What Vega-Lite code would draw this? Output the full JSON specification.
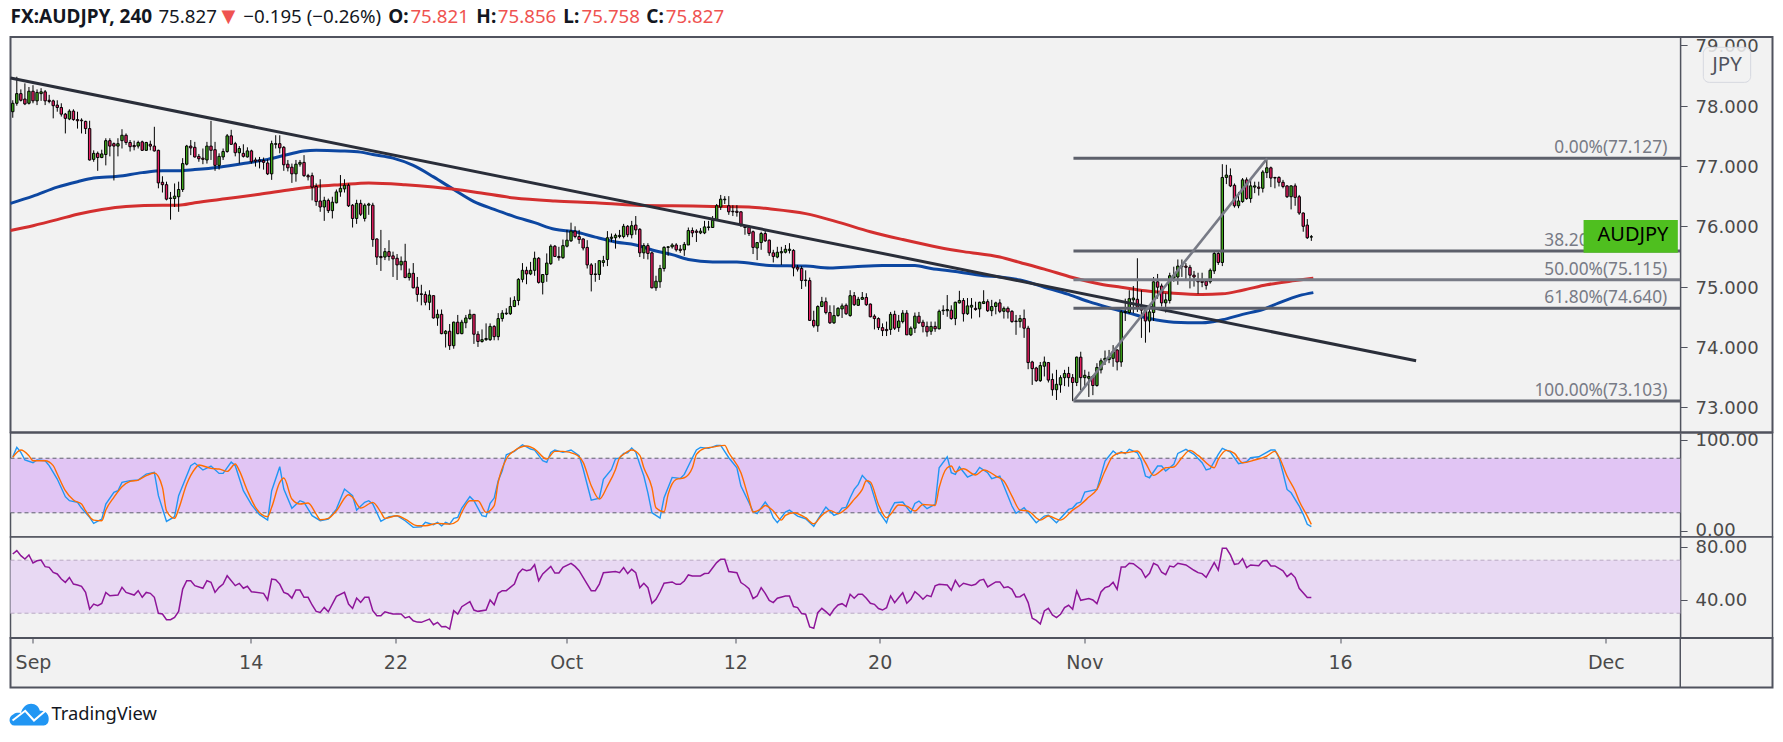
{
"$schema":"https://vega.github.io/schema/vega-lite/v6.json",
"background":"white",
"padding":{"left":3.5,"right":2,"top":0,"bottom":0},
"spacing":0,
"bounds":"flush",
"config":{"text":{"font":"Noto Sans"},"axis":{"labelFont":"DejaVu Sans","grid":false}},
"datasets":{
"one":[{"id":0}],
"candles":[
{"b":-5,"o":77.90,"h":78.09,"l":77.80,"c":78.04},{"b":-4,"o":78.04,"h":78.48,"l":78.00,"c":78.20},{"b":-3,"o":78.20,"h":78.27,"l":78.07,"c":78.09},{"b":-2,"o":78.11,"h":78.37,"l":78.01,"c":78.03},{"b":-1,"o":78.04,"h":78.31,"l":78.02,"c":78.24},
{"b":0,"o":78.24,"h":78.34,"l":78.04,"c":78.08},{"b":1,"o":78.08,"h":78.27,"l":78.01,"c":78.22},{"b":2,"o":78.20,"h":78.29,"l":78.08,"c":78.23},{"b":3,"o":78.23,"h":78.26,"l":78.01,"c":78.08},{"b":4,"o":78.09,"h":78.18,"l":78.04,"c":78.07},
{"b":5,"o":78.08,"h":78.10,"l":77.79,"c":78.00},{"b":6,"o":78.01,"h":78.09,"l":77.90,"c":77.97},{"b":7,"o":77.97,"h":78.04,"l":77.82,"c":77.86},{"b":8,"o":77.86,"h":77.88,"l":77.54,"c":77.79},{"b":9,"o":77.78,"h":77.94,"l":77.76,"c":77.91},
{"b":10,"o":77.91,"h":77.94,"l":77.75,"c":77.77},{"b":11,"o":77.77,"h":77.90,"l":77.62,"c":77.75},{"b":12,"o":77.76,"h":77.79,"l":77.54,"c":77.75},{"b":13,"o":77.74,"h":77.75,"l":77.53,"c":77.62},{"b":14,"o":77.62,"h":77.75,"l":77.09,"c":77.10},
{"b":15,"o":77.11,"h":77.26,"l":77.07,"c":77.21},{"b":16,"o":77.21,"h":77.24,"l":76.92,"c":77.14},{"b":17,"o":77.14,"h":77.27,"l":77.13,"c":77.20},{"b":18,"o":77.19,"h":77.46,"l":77.01,"c":77.42},{"b":19,"o":77.42,"h":77.46,"l":77.16,"c":77.33},
{"b":20,"o":77.37,"h":77.39,"l":76.76,"c":77.33},{"b":21,"o":77.33,"h":77.46,"l":77.16,"c":77.37},{"b":22,"o":77.42,"h":77.61,"l":77.29,"c":77.51},{"b":23,"o":77.51,"h":77.54,"l":77.35,"c":77.39},{"b":24,"o":77.39,"h":77.43,"l":77.24,"c":77.32},
{"b":25,"o":77.34,"h":77.42,"l":77.26,"c":77.32},{"b":26,"o":77.33,"h":77.42,"l":77.29,"c":77.39},{"b":27,"o":77.40,"h":77.42,"l":77.25,"c":77.26},{"b":28,"o":77.26,"h":77.40,"l":77.25,"c":77.39},{"b":29,"o":77.36,"h":77.42,"l":77.26,"c":77.33},
{"b":30,"o":77.33,"h":77.65,"l":77.24,"c":77.25},{"b":31,"o":77.26,"h":77.27,"l":76.63,"c":76.72},{"b":32,"o":76.73,"h":76.83,"l":76.56,"c":76.69},{"b":33,"o":76.69,"h":76.74,"l":76.43,"c":76.45},{"b":34,"o":76.46,"h":76.57,"l":76.11,"c":76.47},
{"b":35,"o":76.46,"h":76.71,"l":76.32,"c":76.50},{"b":36,"o":76.49,"h":76.74,"l":76.24,"c":76.61},{"b":37,"o":76.61,"h":77.13,"l":76.57,"c":77.04},{"b":38,"o":77.03,"h":77.35,"l":77.01,"c":77.33},{"b":39,"o":77.33,"h":77.43,"l":77.18,"c":77.30},
{"b":40,"o":77.31,"h":77.40,"l":77.14,"c":77.15},{"b":41,"o":77.16,"h":77.20,"l":77.07,"c":77.12},{"b":42,"o":77.13,"h":77.29,"l":77.03,"c":77.11},{"b":43,"o":77.10,"h":77.40,"l":77.04,"c":77.33},{"b":44,"o":77.33,"h":77.75,"l":77.10,"c":77.26},
{"b":45,"o":77.27,"h":77.40,"l":76.92,"c":77.01},{"b":46,"o":77.01,"h":77.21,"l":76.94,"c":77.16},{"b":47,"o":77.15,"h":77.29,"l":77.10,"c":77.24},{"b":48,"o":77.24,"h":77.53,"l":77.22,"c":77.50},{"b":49,"o":77.50,"h":77.60,"l":77.35,"c":77.36},
{"b":50,"o":77.37,"h":77.40,"l":77.16,"c":77.22},{"b":51,"o":77.22,"h":77.33,"l":77.04,"c":77.29},{"b":52,"o":77.21,"h":77.36,"l":77.14,"c":77.16},{"b":53,"o":77.15,"h":77.31,"l":77.14,"c":77.25},{"b":54,"o":77.25,"h":77.27,"l":77.04,"c":77.07},
{"b":55,"o":77.10,"h":77.14,"l":76.99,"c":77.08},{"b":56,"o":77.10,"h":77.15,"l":76.96,"c":77.08},{"b":57,"o":77.09,"h":77.14,"l":76.94,"c":77.06},{"b":58,"o":77.05,"h":77.11,"l":76.85,"c":76.87},{"b":59,"o":76.87,"h":77.42,"l":76.77,"c":77.37},
{"b":60,"o":77.36,"h":77.51,"l":77.29,"c":77.37},{"b":61,"o":77.37,"h":77.51,"l":77.21,"c":77.30},{"b":62,"o":77.31,"h":77.33,"l":76.92,"c":77.02},{"b":63,"o":77.03,"h":77.10,"l":76.91,"c":76.97},{"b":64,"o":76.98,"h":77.04,"l":76.72,"c":76.87},
{"b":65,"o":76.87,"h":77.10,"l":76.74,"c":77.03},{"b":66,"o":77.03,"h":77.10,"l":76.99,"c":77.06},{"b":67,"o":77.06,"h":77.18,"l":76.82,"c":76.84},{"b":68,"o":76.84,"h":76.87,"l":76.76,"c":76.82},{"b":69,"o":76.84,"h":76.89,"l":76.43,"c":76.65},
{"b":70,"o":76.66,"h":76.71,"l":76.34,"c":76.41},{"b":71,"o":76.42,"h":76.78,"l":76.24,"c":76.32},{"b":72,"o":76.32,"h":76.49,"l":76.09,"c":76.43},{"b":73,"o":76.43,"h":76.46,"l":76.22,"c":76.26},{"b":74,"o":76.26,"h":76.49,"l":76.13,"c":76.40},
{"b":75,"o":76.39,"h":76.61,"l":76.38,"c":76.57},{"b":76,"o":76.57,"h":76.85,"l":76.49,"c":76.63},{"b":77,"o":76.62,"h":76.78,"l":76.56,"c":76.68},{"b":78,"o":76.68,"h":76.71,"l":76.32,"c":76.34},{"b":79,"o":76.35,"h":76.37,"l":75.98,"c":76.13},
{"b":80,"o":76.13,"h":76.44,"l":76.04,"c":76.38},{"b":81,"o":76.38,"h":76.44,"l":76.17,"c":76.20},{"b":82,"o":76.13,"h":76.38,"l":76.08,"c":76.35},{"b":83,"o":76.35,"h":76.39,"l":76.19,"c":76.37},{"b":84,"o":76.35,"h":76.39,"l":75.66,"c":75.78},
{"b":85,"o":75.79,"h":75.80,"l":75.36,"c":75.49},{"b":86,"o":75.50,"h":75.94,"l":75.26,"c":75.48},{"b":87,"o":75.49,"h":75.64,"l":75.44,"c":75.58},{"b":88,"o":75.58,"h":75.77,"l":75.43,"c":75.50},{"b":89,"o":75.51,"h":75.58,"l":75.16,"c":75.46},
{"b":90,"o":75.47,"h":75.54,"l":75.11,"c":75.36},{"b":91,"o":75.36,"h":75.50,"l":75.27,"c":75.42},{"b":92,"o":75.42,"h":75.71,"l":75.14,"c":75.15},{"b":93,"o":75.15,"h":75.30,"l":75.10,"c":75.22},{"b":94,"o":75.22,"h":75.39,"l":74.97,"c":74.98},
{"b":95,"o":74.99,"h":75.16,"l":74.75,"c":74.87},{"b":96,"o":74.88,"h":75.03,"l":74.69,"c":74.87},{"b":97,"o":74.87,"h":74.92,"l":74.69,"c":74.74},{"b":98,"o":74.74,"h":74.94,"l":74.61,"c":74.86},{"b":99,"o":74.85,"h":74.85,"l":74.47,"c":74.48},
{"b":100,"o":74.48,"h":74.62,"l":74.35,"c":74.54},{"b":101,"o":74.54,"h":74.62,"l":74.21,"c":74.22},{"b":102,"o":74.22,"h":74.28,"l":73.99,"c":74.26},{"b":103,"o":74.26,"h":74.38,"l":73.95,"c":74.02},{"b":104,"o":74.02,"h":74.42,"l":73.97,"c":74.41},
{"b":105,"o":74.41,"h":74.53,"l":74.21,"c":74.22},{"b":106,"o":74.22,"h":74.45,"l":74.21,"c":74.41},{"b":107,"o":74.40,"h":74.53,"l":74.31,"c":74.48},{"b":108,"o":74.47,"h":74.62,"l":74.45,"c":74.54},{"b":109,"o":74.54,"h":74.54,"l":74.05,"c":74.21},
{"b":110,"o":74.21,"h":74.26,"l":74.00,"c":74.09},{"b":111,"o":74.09,"h":74.29,"l":74.07,"c":74.12},{"b":112,"o":74.12,"h":74.39,"l":74.10,"c":74.14},{"b":113,"o":74.12,"h":74.39,"l":74.10,"c":74.34},{"b":114,"o":74.34,"h":74.36,"l":74.11,"c":74.17},
{"b":115,"o":74.17,"h":74.56,"l":74.11,"c":74.47},{"b":116,"o":74.47,"h":74.61,"l":74.42,"c":74.56},{"b":117,"o":74.55,"h":74.64,"l":74.53,"c":74.56},{"b":118,"o":74.55,"h":74.82,"l":74.53,"c":74.67},{"b":119,"o":74.67,"h":74.84,"l":74.66,"c":74.77},
{"b":120,"o":74.77,"h":75.14,"l":74.69,"c":75.12},{"b":121,"o":75.12,"h":75.39,"l":75.07,"c":75.27},{"b":122,"o":75.27,"h":75.33,"l":75.04,"c":75.21},{"b":123,"o":75.21,"h":75.41,"l":75.19,"c":75.27},{"b":124,"o":75.27,"h":75.58,"l":75.18,"c":75.47},
{"b":125,"o":75.47,"h":75.49,"l":75.05,"c":75.07},{"b":126,"o":75.07,"h":75.20,"l":74.87,"c":75.20},{"b":127,"o":75.20,"h":75.55,"l":75.08,"c":75.39},{"b":128,"o":75.38,"h":75.70,"l":75.36,"c":75.67},{"b":129,"o":75.67,"h":75.69,"l":75.49,"c":75.50},
{"b":130,"o":75.50,"h":75.66,"l":75.43,"c":75.48},{"b":131,"o":75.48,"h":75.78,"l":75.46,"c":75.68},{"b":132,"o":75.67,"h":75.94,"l":75.65,"c":75.77},{"b":133,"o":75.76,"h":76.06,"l":75.74,"c":75.92},{"b":134,"o":75.92,"h":76.00,"l":75.80,"c":75.83},
{"b":135,"o":75.83,"h":75.94,"l":75.71,"c":75.78},{"b":136,"o":75.79,"h":75.80,"l":75.60,"c":75.64},{"b":137,"o":75.65,"h":75.77,"l":75.30,"c":75.36},{"b":138,"o":75.36,"h":75.39,"l":74.92,"c":75.20},{"b":139,"o":75.21,"h":75.39,"l":75.08,"c":75.20},
{"b":140,"o":75.20,"h":75.44,"l":75.11,"c":75.43},{"b":141,"o":75.40,"h":75.51,"l":75.33,"c":75.43},{"b":142,"o":75.45,"h":75.92,"l":75.34,"c":75.81},{"b":143,"o":75.80,"h":75.88,"l":75.74,"c":75.82},{"b":144,"o":75.81,"h":75.88,"l":75.63,"c":75.85},
{"b":145,"o":75.83,"h":75.94,"l":75.80,"c":75.85},{"b":146,"o":75.83,"h":76.04,"l":75.80,"c":76.00},{"b":147,"o":76.00,"h":76.02,"l":75.82,"c":75.86},{"b":148,"o":75.86,"h":76.09,"l":75.80,"c":76.01},{"b":149,"o":76.02,"h":76.17,"l":75.86,"c":75.94},
{"b":150,"o":75.95,"h":75.97,"l":75.49,"c":75.56},{"b":151,"o":75.56,"h":75.72,"l":75.46,"c":75.68},{"b":152,"o":75.68,"h":75.72,"l":75.45,"c":75.55},{"b":153,"o":75.56,"h":75.58,"l":74.97,"c":74.98},{"b":154,"o":74.98,"h":75.18,"l":74.93,"c":75.09},
{"b":155,"o":75.08,"h":75.36,"l":74.98,"c":75.30},{"b":156,"o":75.30,"h":75.67,"l":75.25,"c":75.65},{"b":157,"o":75.65,"h":75.67,"l":75.51,"c":75.66},{"b":158,"o":75.66,"h":75.72,"l":75.63,"c":75.69},{"b":159,"o":75.69,"h":75.72,"l":75.58,"c":75.61},
{"b":160,"o":75.62,"h":75.69,"l":75.56,"c":75.60},{"b":161,"o":75.61,"h":75.74,"l":75.51,"c":75.70},{"b":162,"o":75.69,"h":75.98,"l":75.69,"c":75.93},{"b":163,"o":75.93,"h":75.98,"l":75.82,"c":75.89},{"b":164,"o":75.92,"h":75.95,"l":75.74,"c":75.90},
{"b":165,"o":75.89,"h":75.97,"l":75.87,"c":75.92},{"b":166,"o":75.89,"h":76.09,"l":75.87,"c":75.99},{"b":167,"o":75.98,"h":76.09,"l":75.93,"c":75.99},{"b":168,"o":75.98,"h":76.17,"l":75.98,"c":76.10},{"b":169,"o":76.10,"h":76.37,"l":76.09,"c":76.34},
{"b":170,"o":76.32,"h":76.52,"l":76.27,"c":76.45},{"b":171,"o":76.44,"h":76.50,"l":76.37,"c":76.45},{"b":172,"o":76.34,"h":76.50,"l":76.19,"c":76.24},{"b":173,"o":76.25,"h":76.35,"l":76.17,"c":76.24},{"b":174,"o":76.25,"h":76.35,"l":76.16,"c":76.23},
{"b":175,"o":76.24,"h":76.25,"l":75.99,"c":76.02},{"b":176,"o":75.99,"h":76.02,"l":75.86,"c":75.98},{"b":177,"o":75.98,"h":76.02,"l":75.84,"c":75.88},{"b":178,"o":75.91,"h":75.93,"l":75.54,"c":75.65},{"b":179,"o":75.64,"h":75.74,"l":75.44,"c":75.73},
{"b":180,"o":75.73,"h":75.91,"l":75.61,"c":75.88},{"b":181,"o":75.88,"h":75.93,"l":75.74,"c":75.76},{"b":182,"o":75.77,"h":75.78,"l":75.51,"c":75.56},{"b":183,"o":75.56,"h":75.61,"l":75.40,"c":75.50},{"b":184,"o":75.49,"h":75.66,"l":75.47,"c":75.57},
{"b":185,"o":75.56,"h":75.66,"l":75.36,"c":75.58},{"b":186,"o":75.57,"h":75.69,"l":75.55,"c":75.62},{"b":187,"o":75.60,"h":75.72,"l":75.55,"c":75.62},{"b":188,"o":75.60,"h":75.62,"l":75.17,"c":75.31},{"b":189,"o":75.32,"h":75.36,"l":75.25,"c":75.29},
{"b":190,"o":75.30,"h":75.34,"l":74.96,"c":75.10},{"b":191,"o":75.11,"h":75.27,"l":75.00,"c":75.10},{"b":192,"o":75.10,"h":75.15,"l":74.43,"c":74.44},{"b":193,"o":74.44,"h":74.60,"l":74.32,"c":74.35},{"b":194,"o":74.35,"h":74.69,"l":74.25,"c":74.67},
{"b":195,"o":74.67,"h":74.83,"l":74.66,"c":74.75},{"b":196,"o":74.75,"h":74.82,"l":74.54,"c":74.57},{"b":197,"o":74.57,"h":74.69,"l":74.38,"c":74.40},{"b":198,"o":74.40,"h":74.69,"l":74.38,"c":74.52},{"b":199,"o":74.52,"h":74.66,"l":74.50,"c":74.64},
{"b":200,"o":74.63,"h":74.72,"l":74.48,"c":74.68},{"b":201,"o":74.69,"h":74.72,"l":74.53,"c":74.55},{"b":202,"o":74.52,"h":74.94,"l":74.50,"c":74.85},{"b":203,"o":74.85,"h":74.91,"l":74.68,"c":74.70},{"b":204,"o":74.69,"h":74.83,"l":74.68,"c":74.79},
{"b":205,"o":74.79,"h":74.91,"l":74.78,"c":74.82},{"b":206,"o":74.82,"h":74.89,"l":74.68,"c":74.70},{"b":207,"o":74.71,"h":74.72,"l":74.49,"c":74.50},{"b":208,"o":74.51,"h":74.54,"l":74.29,"c":74.47},{"b":209,"o":74.47,"h":74.49,"l":74.28,"c":74.32},
{"b":210,"o":74.32,"h":74.39,"l":74.18,"c":74.27},{"b":211,"o":74.29,"h":74.42,"l":74.18,"c":74.27},{"b":212,"o":74.29,"h":74.58,"l":74.20,"c":74.54},{"b":213,"o":74.54,"h":74.60,"l":74.28,"c":74.31},{"b":214,"o":74.32,"h":74.53,"l":74.25,"c":74.43},
{"b":215,"o":74.42,"h":74.61,"l":74.39,"c":74.56},{"b":216,"o":74.56,"h":74.61,"l":74.20,"c":74.20},{"b":217,"o":74.20,"h":74.34,"l":74.18,"c":74.31},{"b":218,"o":74.31,"h":74.57,"l":74.23,"c":74.51},{"b":219,"o":74.51,"h":74.58,"l":74.38,"c":74.40},
{"b":220,"o":74.41,"h":74.45,"l":74.24,"c":74.34},{"b":221,"o":74.34,"h":74.42,"l":74.17,"c":74.25},{"b":222,"o":74.26,"h":74.42,"l":74.20,"c":74.34},{"b":223,"o":74.34,"h":74.42,"l":74.25,"c":74.30},{"b":224,"o":74.30,"h":74.62,"l":74.29,"c":74.59},
{"b":225,"o":74.60,"h":74.69,"l":74.53,"c":74.61},{"b":226,"o":74.60,"h":74.86,"l":74.50,"c":74.62},{"b":227,"o":74.61,"h":74.69,"l":74.45,"c":74.47},{"b":228,"o":74.47,"h":74.75,"l":74.36,"c":74.74},{"b":229,"o":74.73,"h":74.93,"l":74.72,"c":74.77},
{"b":230,"o":74.77,"h":74.81,"l":74.42,"c":74.55},{"b":231,"o":74.55,"h":74.81,"l":74.53,"c":74.68},{"b":232,"o":74.66,"h":74.81,"l":74.47,"c":74.69},{"b":233,"o":74.64,"h":74.75,"l":74.60,"c":74.62},{"b":234,"o":74.63,"h":74.75,"l":74.49,"c":74.74},
{"b":235,"o":74.72,"h":74.94,"l":74.71,"c":74.75},{"b":236,"o":74.75,"h":74.79,"l":74.58,"c":74.60},{"b":237,"o":74.60,"h":74.78,"l":74.51,"c":74.67},{"b":238,"o":74.67,"h":74.75,"l":74.54,"c":74.73},{"b":239,"o":74.73,"h":74.79,"l":74.56,"c":74.59},
{"b":240,"o":74.59,"h":74.67,"l":74.47,"c":74.64},{"b":241,"o":74.64,"h":74.67,"l":74.47,"c":74.58},{"b":242,"o":74.59,"h":74.61,"l":74.40,"c":74.42},{"b":243,"o":74.43,"h":74.53,"l":74.20,"c":74.42},{"b":244,"o":74.42,"h":74.53,"l":74.32,"c":74.47},
{"b":245,"o":74.47,"h":74.62,"l":74.15,"c":74.31},{"b":246,"o":74.31,"h":74.35,"l":73.63,"c":73.74},{"b":247,"o":73.75,"h":73.77,"l":73.37,"c":73.64},{"b":248,"o":73.65,"h":73.67,"l":73.42,"c":73.44},{"b":249,"o":73.44,"h":73.75,"l":73.42,"c":73.69},
{"b":250,"o":73.68,"h":73.84,"l":73.51,"c":73.75},{"b":251,"o":73.74,"h":73.75,"l":73.41,"c":73.45},{"b":252,"o":73.46,"h":73.56,"l":73.19,"c":73.29},{"b":253,"o":73.29,"h":73.62,"l":73.12,"c":73.38},{"b":254,"o":73.37,"h":73.53,"l":73.24,"c":73.49},
{"b":255,"o":73.49,"h":73.62,"l":73.35,"c":73.56},{"b":256,"o":73.56,"h":73.67,"l":73.34,"c":73.49},{"b":257,"o":73.49,"h":73.55,"l":73.10,"c":73.41},{"b":258,"o":73.41,"h":73.84,"l":73.35,"c":73.83},{"b":259,"o":73.83,"h":73.92,"l":73.28,"c":73.49},
{"b":260,"o":73.49,"h":73.62,"l":73.33,"c":73.53},{"b":261,"o":73.48,"h":73.59,"l":73.17,"c":73.51},{"b":262,"o":73.51,"h":73.53,"l":73.20,"c":73.36},{"b":263,"o":73.36,"h":73.73,"l":73.34,"c":73.66},{"b":264,"o":73.62,"h":73.81,"l":73.56,"c":73.77},
{"b":265,"o":73.78,"h":73.94,"l":73.70,"c":73.81},{"b":266,"o":73.79,"h":73.95,"l":73.73,"c":73.83},{"b":267,"o":73.81,"h":74.03,"l":73.67,"c":73.92},{"b":268,"o":73.95,"h":73.96,"l":73.61,"c":73.75},{"b":269,"o":73.75,"h":74.61,"l":73.67,"c":74.58},
{"b":270,"o":74.57,"h":74.80,"l":74.43,"c":74.59},{"b":271,"o":74.57,"h":74.94,"l":74.55,"c":74.80},{"b":272,"o":74.78,"h":75.01,"l":74.56,"c":74.81},{"b":273,"o":74.79,"h":75.47,"l":74.58,"c":74.66},{"b":274,"o":74.67,"h":74.94,"l":74.15,"c":74.61},
{"b":275,"o":74.61,"h":74.69,"l":74.07,"c":74.43},{"b":276,"o":74.43,"h":74.69,"l":74.24,"c":74.58},{"b":277,"o":74.57,"h":75.16,"l":74.43,"c":75.08},{"b":278,"o":75.08,"h":75.21,"l":74.80,"c":74.99},{"b":279,"o":75.01,"h":75.05,"l":74.67,"c":74.73},
{"b":280,"o":74.73,"h":74.89,"l":74.57,"c":74.78},{"b":281,"o":74.77,"h":75.23,"l":74.72,"c":75.18},{"b":282,"o":75.14,"h":75.33,"l":75.08,"c":75.19},{"b":283,"o":75.16,"h":75.45,"l":75.03,"c":75.34},{"b":284,"o":75.33,"h":75.45,"l":75.16,"c":75.35},
{"b":285,"o":75.34,"h":75.39,"l":75.12,"c":75.32},{"b":286,"o":75.32,"h":75.36,"l":74.97,"c":75.19},{"b":287,"o":75.19,"h":75.26,"l":75.00,"c":75.16},{"b":288,"o":75.10,"h":75.23,"l":74.88,"c":75.08},{"b":289,"o":75.09,"h":75.23,"l":74.99,"c":75.07},
{"b":290,"o":75.09,"h":75.11,"l":74.95,"c":75.02},{"b":291,"o":75.08,"h":75.30,"l":75.05,"c":75.27},{"b":292,"o":75.26,"h":75.58,"l":75.21,"c":75.55},{"b":293,"o":75.55,"h":75.58,"l":75.36,"c":75.40},{"b":294,"o":75.40,"h":77.03,"l":75.34,"c":76.81},
{"b":295,"o":76.81,"h":77.02,"l":76.70,"c":76.85},{"b":296,"o":76.84,"h":76.96,"l":76.65,"c":76.67},{"b":297,"o":76.68,"h":76.71,"l":76.31,"c":76.34},{"b":298,"o":76.34,"h":76.57,"l":76.30,"c":76.42},{"b":299,"o":76.41,"h":76.80,"l":76.39,"c":76.77},
{"b":300,"o":76.77,"h":76.81,"l":76.44,"c":76.46},{"b":301,"o":76.46,"h":76.80,"l":76.39,"c":76.67},{"b":302,"o":76.65,"h":76.74,"l":76.55,"c":76.67},{"b":303,"o":76.65,"h":76.74,"l":76.51,"c":76.63},{"b":304,"o":76.63,"h":76.93,"l":76.56,"c":76.90},
{"b":305,"o":76.89,"h":77.12,"l":76.80,"c":76.97},{"b":306,"o":76.97,"h":76.99,"l":76.65,"c":76.80},{"b":307,"o":76.81,"h":76.82,"l":76.63,"c":76.80},{"b":308,"o":76.81,"h":76.83,"l":76.66,"c":76.73},{"b":309,"o":76.73,"h":76.77,"l":76.63,"c":76.66},
{"b":310,"o":76.67,"h":76.68,"l":76.47,"c":76.49},{"b":311,"o":76.49,"h":76.68,"l":76.28,"c":76.67},{"b":312,"o":76.67,"h":76.71,"l":76.34,"c":76.48},{"b":313,"o":76.49,"h":76.52,"l":76.19,"c":76.22},{"b":314,"o":76.22,"h":76.23,"l":75.91,"c":76.00},
{"b":315,"o":76.02,"h":76.12,"l":75.79,"c":75.81},{"b":316,"o":75.821,"h":75.856,"l":75.758,"c":75.827}
],
"ma_blue":[{"b":-5.56,"v":76.38},{"b":0,"v":76.50},{"b":6,"v":76.65},{"b":11,"v":76.74},{"b":15,"v":76.80},{"b":21,"v":76.83},{"b":27,"v":76.89},{"b":32,"v":76.92},{"b":36,"v":76.92},{"b":40,"v":76.94},{"b":46,"v":76.98},{"b":52,"v":77.04},{"b":58,"v":77.11},{"b":63,"v":77.19},{"b":67,"v":77.25},{"b":70,"v":77.26},{"b":76,"v":77.25},{"b":81,"v":77.23},{"b":84,"v":77.19},{"b":89,"v":77.13},{"b":94,"v":77.01},{"b":99,"v":76.82},{"b":104,"v":76.61},{"b":109,"v":76.41},{"b":114,"v":76.28},{"b":119,"v":76.16},{"b":124,"v":76.06},{"b":129,"v":75.95},{"b":134,"v":75.91},{"b":139,"v":75.82},{"b":144,"v":75.74},{"b":149,"v":75.69},{"b":154,"v":75.59},{"b":158,"v":75.53},{"b":162,"v":75.45},{"b":168,"v":75.41},{"b":174,"v":75.41},{"b":182,"v":75.35},{"b":191,"v":75.34},{"b":197,"v":75.31},{"b":203,"v":75.33},{"b":210,"v":75.35},{"b":218,"v":75.35},{"b":222,"v":75.30},{"b":228,"v":75.25},{"b":235,"v":75.18},{"b":239,"v":75.16},{"b":244,"v":75.11},{"b":250,"v":74.99},{"b":256,"v":74.87},{"b":261,"v":74.75},{"b":266,"v":74.65},{"b":271,"v":74.56},{"b":276,"v":74.47},{"b":282,"v":74.41},{"b":289,"v":74.40},{"b":294,"v":74.45},{"b":299,"v":74.54},{"b":304,"v":74.62},{"b":308,"v":74.73},{"b":313,"v":74.85},{"b":316.5,"v":74.90}],
"ma_red":[{"b":-5.56,"v":75.93},{"b":0,"v":76.01},{"b":6,"v":76.11},{"b":11,"v":76.20},{"b":17,"v":76.28},{"b":23,"v":76.33},{"b":32,"v":76.35},{"b":36,"v":76.35},{"b":40,"v":76.39},{"b":48,"v":76.46},{"b":56,"v":76.53},{"b":64,"v":76.61},{"b":70,"v":76.66},{"b":76,"v":76.69},{"b":83,"v":76.72},{"b":92,"v":76.69},{"b":99,"v":76.65},{"b":109,"v":76.57},{"b":119,"v":76.47},{"b":129,"v":76.42},{"b":139,"v":76.39},{"b":149,"v":76.35},{"b":158,"v":76.34},{"b":168,"v":76.33},{"b":177,"v":76.32},{"b":182,"v":76.29},{"b":191,"v":76.21},{"b":199,"v":76.07},{"b":207,"v":75.91},{"b":215,"v":75.78},{"b":224,"v":75.65},{"b":230,"v":75.58},{"b":239,"v":75.49},{"b":244,"v":75.40},{"b":250,"v":75.29},{"b":257,"v":75.15},{"b":264,"v":75.04},{"b":269,"v":74.99},{"b":275,"v":74.93},{"b":282,"v":74.89},{"b":289,"v":74.87},{"b":294,"v":74.88},{"b":299,"v":74.94},{"b":305,"v":75.03},{"b":312,"v":75.10},{"b":316.5,"v":75.14}],
"stoch_k":[{"b":-5,"v":81.6},{"b":-4,"v":91.9},{"b":-3,"v":86.4},{"b":-2,"v":78},{"b":0,"v":75},{"b":1,"v":78},{"b":3,"v":77.2},{"b":4,"v":71.8},{"b":6,"v":57.1},{"b":8,"v":37.7},{"b":9,"v":33.3},{"b":11,"v":31.5},{"b":12,"v":25.2},{"b":14,"v":15},{"b":15,"v":8.4},{"b":17,"v":13.1},{"b":18,"v":29.6},{"b":20,"v":42.4},{"b":21,"v":44.3},{"b":22,"v":53.4},{"b":24,"v":55.3},{"b":26,"v":56},{"b":28,"v":62.6},{"b":30,"v":64.4},{"b":31,"v":38.8},{"b":33,"v":10.6},{"b":35,"v":15.7},{"b":36,"v":38.8},{"b":39,"v":71.8},{"b":40,"v":74.7},{"b":42,"v":67},{"b":44,"v":71.4},{"b":46,"v":63.3},{"b":47,"v":63.3},{"b":49,"v":75.8},{"b":50,"v":71.8},{"b":52,"v":44.3},{"b":54,"v":28.9},{"b":56,"v":17.9},{"b":58,"v":12},{"b":59,"v":44.3},{"b":61,"v":70.7},{"b":62,"v":46.1},{"b":64,"v":24.9},{"b":66,"v":33.3},{"b":67,"v":31.5},{"b":69,"v":16.8},{"b":71,"v":11.3},{"b":73,"v":13.1},{"b":75,"v":24.1},{"b":77,"v":46.1},{"b":79,"v":38.8},{"b":80,"v":23},{"b":82,"v":31.5},{"b":83,"v":33.3},{"b":84,"v":29.6},{"b":86,"v":10.6},{"b":88,"v":15.7},{"b":90,"v":16.8},{"b":92,"v":11.3},{"b":94,"v":4},{"b":96,"v":4.7},{"b":97,"v":9.5},{"b":99,"v":6.9},{"b":100,"v":9.5},{"b":101,"v":5.8},{"b":102,"v":9.5},{"b":103,"v":7.6},{"b":104,"v":13.9},{"b":105,"v":15},{"b":106,"v":25.2},{"b":108,"v":37.7},{"b":109,"v":33.3},{"b":111,"v":16.8},{"b":112,"v":15.7},{"b":113,"v":30.4},{"b":114,"v":36.2},{"b":115,"v":55.3},{"b":116,"v":66.3},{"b":117,"v":83.8},{"b":119,"v":87.5},{"b":121,"v":94.8},{"b":123,"v":90.1},{"b":124,"v":89},{"b":126,"v":77.2},{"b":127,"v":75.4},{"b":128,"v":86.4},{"b":129,"v":89},{"b":131,"v":86.4},{"b":133,"v":89},{"b":135,"v":82.7},{"b":136,"v":68.1},{"b":138,"v":34},{"b":140,"v":36},{"b":141,"v":56.7},{"b":143,"v":67.7},{"b":144,"v":79.4},{"b":145,"v":80.2},{"b":146,"v":85.3},{"b":147,"v":86},{"b":148,"v":91.2},{"b":149,"v":86.8},{"b":150,"v":73.2},{"b":151,"v":60.4},{"b":152,"v":42},{"b":153,"v":20.1},{"b":155,"v":14.2},{"b":156,"v":36.6},{"b":158,"v":58.9},{"b":160,"v":57.8},{"b":161,"v":62.2},{"b":163,"v":80.5},{"b":164,"v":89},{"b":165,"v":91.9},{"b":167,"v":90.8},{"b":169,"v":94.1},{"b":170,"v":94.1},{"b":172,"v":80.5},{"b":174,"v":69.5},{"b":175,"v":49.4},{"b":177,"v":31.1},{"b":178,"v":21.2},{"b":179,"v":19},{"b":181,"v":31.8},{"b":182,"v":25.6},{"b":183,"v":14.6},{"b":184,"v":9.1},{"b":186,"v":20.8},{"b":187,"v":23},{"b":189,"v":16.4},{"b":191,"v":13.5},{"b":193,"v":5},{"b":194,"v":12.8},{"b":196,"v":26.3},{"b":198,"v":17.2},{"b":199,"v":19},{"b":200,"v":25.2},{"b":201,"v":26},{"b":202,"v":36.6},{"b":203,"v":45.7},{"b":204,"v":51.2},{"b":205,"v":61.1},{"b":207,"v":51.2},{"b":209,"v":21.9},{"b":211,"v":9.1},{"b":212,"v":23},{"b":213,"v":31.1},{"b":215,"v":31.8},{"b":217,"v":20.1},{"b":218,"v":30.3},{"b":219,"v":32.9},{"b":221,"v":24.5},{"b":223,"v":29.2},{"b":224,"v":69.5},{"b":226,"v":81.6},{"b":227,"v":64},{"b":228,"v":62.2},{"b":229,"v":70.5},{"b":231,"v":59.3},{"b":233,"v":63.3},{"b":234,"v":69.9},{"b":236,"v":64},{"b":237,"v":57.5},{"b":239,"v":60.4},{"b":240,"v":49.4},{"b":242,"v":27.4},{"b":243,"v":19.4},{"b":245,"v":25.6},{"b":247,"v":14.6},{"b":248,"v":9.1},{"b":250,"v":16.4},{"b":251,"v":17.2},{"b":253,"v":9.1},{"b":256,"v":23.7},{"b":257,"v":25.2},{"b":258,"v":30.3},{"b":259,"v":31.8},{"b":260,"v":42.8},{"b":263,"v":45.7},{"b":265,"v":76.9},{"b":267,"v":87.9},{"b":268,"v":84.2},{"b":269,"v":87.1},{"b":270,"v":84.9},{"b":271,"v":89.7},{"b":273,"v":86},{"b":274,"v":76.9},{"b":275,"v":60.4},{"b":276,"v":58.5},{"b":278,"v":71.4},{"b":279,"v":71.4},{"b":280,"v":65.9},{"b":282,"v":73.2},{"b":283,"v":85.3},{"b":285,"v":89.7},{"b":287,"v":84.2},{"b":289,"v":75},{"b":290,"v":67},{"b":291,"v":68.4},{"b":293,"v":84.2},{"b":294,"v":90.8},{"b":296,"v":86.8},{"b":298,"v":73.9},{"b":300,"v":76.1},{"b":301,"v":80.5},{"b":303,"v":81.6},{"b":306,"v":89},{"b":307,"v":89},{"b":308,"v":80.5},{"b":309,"v":64},{"b":310,"v":45.7},{"b":311,"v":42},{"b":313,"v":27.4},{"b":314,"v":18.3},{"b":315,"v":7.3},{"b":316,"v":4.7}],
"stoch_d":[{"b":-5,"v":80.9},{"b":-3,"v":89},{"b":-1,"v":82.7},{"b":0,"v":77.2},{"b":3,"v":77.2},{"b":5,"v":71.8},{"b":6,"v":62.6},{"b":8,"v":44.3},{"b":10,"v":34},{"b":12,"v":29.6},{"b":13,"v":22.3},{"b":15,"v":12},{"b":17,"v":11.3},{"b":18,"v":23},{"b":20,"v":37},{"b":22,"v":48.7},{"b":24,"v":54.5},{"b":26,"v":56},{"b":28,"v":60.8},{"b":30,"v":63.7},{"b":32,"v":48},{"b":33,"v":22.3},{"b":35,"v":13.9},{"b":36,"v":24.1},{"b":38,"v":51.6},{"b":40,"v":68.1},{"b":41,"v":72.5},{"b":44,"v":68.8},{"b":46,"v":68.1},{"b":48,"v":65.5},{"b":50,"v":73.6},{"b":51,"v":66.3},{"b":53,"v":44.3},{"b":55,"v":26},{"b":58,"v":15.7},{"b":59,"v":26},{"b":61,"v":53.4},{"b":62,"v":58.2},{"b":64,"v":35.1},{"b":66,"v":29.6},{"b":68,"v":30.7},{"b":70,"v":18.6},{"b":71,"v":12.4},{"b":73,"v":13.9},{"b":75,"v":22.3},{"b":78,"v":39.9},{"b":79,"v":37},{"b":81,"v":25.2},{"b":84,"v":31.5},{"b":86,"v":20.5},{"b":87,"v":13.9},{"b":90,"v":16.8},{"b":92,"v":13.1},{"b":95,"v":5.8},{"b":97,"v":5.8},{"b":100,"v":8.4},{"b":103,"v":7.6},{"b":105,"v":11.3},{"b":106,"v":20.5},{"b":108,"v":33.3},{"b":110,"v":33.3},{"b":112,"v":20.5},{"b":114,"v":27.8},{"b":115,"v":53.4},{"b":117,"v":79.1},{"b":119,"v":88.2},{"b":122,"v":93.4},{"b":124,"v":90.1},{"b":127,"v":79.1},{"b":129,"v":87.5},{"b":131,"v":87.5},{"b":134,"v":84.6},{"b":136,"v":75.4},{"b":138,"v":49.8},{"b":140,"v":35},{"b":142,"v":49.4},{"b":144,"v":67.7},{"b":145,"v":80.5},{"b":146,"v":84.2},{"b":148,"v":89},{"b":150,"v":83.1},{"b":151,"v":69.5},{"b":153,"v":47.6},{"b":154,"v":25.6},{"b":156,"v":21.2},{"b":157,"v":40.2},{"b":159,"v":56.7},{"b":161,"v":58.5},{"b":163,"v":69.5},{"b":164,"v":84.2},{"b":166,"v":90.8},{"b":168,"v":92.2},{"b":171,"v":94.1},{"b":172,"v":86},{"b":175,"v":64},{"b":177,"v":34.7},{"b":178,"v":20.8},{"b":180,"v":24.5},{"b":181,"v":28.1},{"b":183,"v":21.9},{"b":185,"v":12},{"b":186,"v":17.2},{"b":188,"v":20.1},{"b":191,"v":14.6},{"b":193,"v":8},{"b":195,"v":17.2},{"b":197,"v":22.7},{"b":199,"v":19},{"b":201,"v":24.5},{"b":203,"v":34.7},{"b":205,"v":45.7},{"b":206,"v":55.3},{"b":207,"v":53.8},{"b":209,"v":29.2},{"b":211,"v":14.6},{"b":212,"v":18.3},{"b":214,"v":28.5},{"b":216,"v":27.4},{"b":218,"v":21.9},{"b":220,"v":29.2},{"b":223,"v":28.1},{"b":224,"v":47.6},{"b":226,"v":69.5},{"b":227,"v":71.4},{"b":228,"v":64.8},{"b":229,"v":67},{"b":230,"v":68.4},{"b":233,"v":61.5},{"b":235,"v":67},{"b":236,"v":65.9},{"b":238,"v":60.4},{"b":240,"v":54.9},{"b":242,"v":38.4},{"b":244,"v":23},{"b":246,"v":21.9},{"b":249,"v":12},{"b":251,"v":16.4},{"b":254,"v":12},{"b":257,"v":23},{"b":259,"v":29.2},{"b":261,"v":37.3},{"b":263,"v":45.7},{"b":265,"v":65.9},{"b":267,"v":82.4},{"b":269,"v":86},{"b":270,"v":86},{"b":273,"v":87.9},{"b":275,"v":75},{"b":277,"v":61.1},{"b":280,"v":69.5},{"b":282,"v":70.3},{"b":284,"v":80.5},{"b":286,"v":88.6},{"b":288,"v":83.1},{"b":292,"v":69.5},{"b":293,"v":78.7},{"b":295,"v":88.6},{"b":297,"v":85.3},{"b":299,"v":75},{"b":302,"v":78},{"b":305,"v":82.4},{"b":307,"v":87.5},{"b":308,"v":81.6},{"b":310,"v":60.4},{"b":312,"v":43.9},{"b":313,"v":32.9},{"b":315,"v":16.4},{"b":316,"v":7.3}],
"rsi":[{"b":-5,"v":74.7},{"b":-4,"v":77.2},{"b":-3,"v":73.4},{"b":-2,"v":70.9},{"b":-1,"v":73.9},{"b":0,"v":67.9},{"b":1,"v":69.6},{"b":2,"v":70.1},{"b":3,"v":65.1},{"b":4,"v":64.6},{"b":5,"v":60.8},{"b":6,"v":59.6},{"b":7,"v":55.8},{"b":8,"v":53.3},{"b":9,"v":57},{"b":10,"v":52},{"b":11,"v":51.3},{"b":12,"v":50.3},{"b":13,"v":45.7},{"b":14,"v":33.1},{"b":15,"v":36.9},{"b":16,"v":35.7},{"b":17,"v":37.4},{"b":18,"v":45.7},{"b":19,"v":43.2},{"b":21,"v":43.7},{"b":22,"v":49.5},{"b":23,"v":45.7},{"b":25,"v":43.7},{"b":26,"v":47},{"b":27,"v":42},{"b":28,"v":45.7},{"b":29,"v":45},{"b":30,"v":42},{"b":31,"v":29.9},{"b":32,"v":29.4},{"b":33,"v":25.1},{"b":34,"v":25.1},{"b":35,"v":26.9},{"b":36,"v":31.4},{"b":37,"v":48.2},{"b":38,"v":54.5},{"b":39,"v":54.5},{"b":40,"v":50.8},{"b":42,"v":48.8},{"b":43,"v":54.5},{"b":44,"v":53.3},{"b":45,"v":45.7},{"b":46,"v":49.5},{"b":47,"v":52},{"b":48,"v":58.3},{"b":50,"v":50.8},{"b":51,"v":52.5},{"b":52,"v":48.8},{"b":53,"v":50.3},{"b":54,"v":46.2},{"b":57,"v":45},{"b":58,"v":40},{"b":59,"v":55.8},{"b":60,"v":55.3},{"b":61,"v":52},{"b":62,"v":45.7},{"b":63,"v":44.5},{"b":64,"v":41.4},{"b":65,"v":47.5},{"b":66,"v":47.5},{"b":67,"v":42},{"b":68,"v":42},{"b":69,"v":36.2},{"b":70,"v":31.4},{"b":71,"v":30.6},{"b":72,"v":34.4},{"b":73,"v":31.1},{"b":75,"v":42.7},{"b":77,"v":45.7},{"b":78,"v":36.9},{"b":79,"v":33.6},{"b":80,"v":41.4},{"b":81,"v":38.2},{"b":82,"v":42},{"b":83,"v":42},{"b":84,"v":31.9},{"b":85,"v":28.1},{"b":86,"v":28.1},{"b":87,"v":31.1},{"b":88,"v":30.1},{"b":89,"v":29.4},{"b":91,"v":29.4},{"b":92,"v":26.4},{"b":93,"v":27.4},{"b":94,"v":24.3},{"b":95,"v":23.3},{"b":96,"v":23.1},{"b":98,"v":25.6},{"b":99,"v":21.3},{"b":100,"v":23.1},{"b":101,"v":19.8},{"b":102,"v":20},{"b":103,"v":18},{"b":104,"v":31.9},{"b":105,"v":29.4},{"b":106,"v":34.9},{"b":108,"v":38.7},{"b":109,"v":32.4},{"b":110,"v":31.4},{"b":112,"v":32.4},{"b":113,"v":40},{"b":114,"v":36.4},{"b":115,"v":45},{"b":116,"v":47},{"b":117,"v":47},{"b":119,"v":52},{"b":120,"v":60},{"b":121,"v":63.3},{"b":122,"v":62.1},{"b":123,"v":62.8},{"b":124,"v":66.6},{"b":125,"v":54.5},{"b":126,"v":59.6},{"b":128,"v":65.3},{"b":129,"v":60.3},{"b":130,"v":60.3},{"b":131,"v":64.6},{"b":133,"v":67.6},{"b":134,"v":65.3},{"b":135,"v":62.1},{"b":137,"v":52},{"b":138,"v":47},{"b":139,"v":47},{"b":140,"v":52},{"b":141,"v":60.6},{"b":144,"v":61.4},{"b":145,"v":60.6},{"b":146,"v":64.4},{"b":147,"v":59.9},{"b":148,"v":63.1},{"b":149,"v":60.6},{"b":150,"v":49.3},{"b":151,"v":52.6},{"b":152,"v":49.3},{"b":153,"v":37.5},{"b":154,"v":40.5},{"b":155,"v":46},{"b":156,"v":52.6},{"b":158,"v":53.6},{"b":159,"v":51.8},{"b":160,"v":51.8},{"b":161,"v":54.3},{"b":162,"v":58.9},{"b":163,"v":58.1},{"b":165,"v":58.1},{"b":166,"v":59.9},{"b":167,"v":60.1},{"b":169,"v":68.2},{"b":170,"v":70.7},{"b":171,"v":70.7},{"b":172,"v":61.4},{"b":174,"v":60.6},{"b":175,"v":53.1},{"b":176,"v":51.1},{"b":177,"v":48.5},{"b":178,"v":41},{"b":179,"v":43},{"b":180,"v":49.3},{"b":181,"v":45},{"b":182,"v":39.7},{"b":183,"v":38},{"b":184,"v":41.3},{"b":186,"v":43},{"b":187,"v":43},{"b":188,"v":35},{"b":189,"v":34.2},{"b":190,"v":29.7},{"b":191,"v":29.2},{"b":192,"v":19.6},{"b":193,"v":18.6},{"b":194,"v":30.4},{"b":195,"v":33.7},{"b":196,"v":31.2},{"b":197,"v":28.4},{"b":198,"v":33},{"b":199,"v":36.2},{"b":200,"v":37.2},{"b":201,"v":35},{"b":202,"v":44.3},{"b":203,"v":41.3},{"b":204,"v":44.3},{"b":205,"v":44.3},{"b":206,"v":41.3},{"b":207,"v":37.5},{"b":208,"v":36.7},{"b":209,"v":33.5},{"b":210,"v":32.4},{"b":211,"v":34.2},{"b":212,"v":43},{"b":213,"v":38},{"b":214,"v":41.8},{"b":215,"v":45.5},{"b":216,"v":37.5},{"b":217,"v":40.5},{"b":218,"v":46.3},{"b":219,"v":43.8},{"b":220,"v":40.5},{"b":221,"v":43.5},{"b":222,"v":42.5},{"b":223,"v":50.6},{"b":224,"v":51.8},{"b":226,"v":51.3},{"b":227,"v":47.3},{"b":228,"v":54.8},{"b":229,"v":50},{"b":230,"v":52.6},{"b":232,"v":51},{"b":233,"v":51.8},{"b":234,"v":54.8},{"b":235,"v":55.6},{"b":236,"v":49.8},{"b":237,"v":51.8},{"b":238,"v":53.6},{"b":239,"v":53.6},{"b":240,"v":49.3},{"b":241,"v":50},{"b":242,"v":48},{"b":243,"v":42.3},{"b":244,"v":42.5},{"b":245,"v":44.5},{"b":246,"v":38},{"b":247,"v":26.2},{"b":248,"v":24.6},{"b":249,"v":21.9},{"b":250,"v":31.7},{"b":251,"v":33.7},{"b":252,"v":28.7},{"b":253,"v":26.7},{"b":254,"v":29.2},{"b":255,"v":34.2},{"b":256,"v":36},{"b":257,"v":33},{"b":258,"v":46.8},{"b":259,"v":39.7},{"b":261,"v":41},{"b":262,"v":40},{"b":263,"v":37.2},{"b":264,"v":46},{"b":265,"v":49.3},{"b":266,"v":50.3},{"b":267,"v":53.3},{"b":268,"v":48},{"b":269,"v":64.9},{"b":270,"v":64.9},{"b":271,"v":67.7},{"b":272,"v":67.4},{"b":274,"v":62.6},{"b":275,"v":56.9},{"b":276,"v":60.1},{"b":277,"v":67.7},{"b":278,"v":66.2},{"b":279,"v":60.9},{"b":280,"v":59.1},{"b":281,"v":65.6},{"b":282,"v":64.9},{"b":283,"v":67.7},{"b":285,"v":66.4},{"b":287,"v":62.4},{"b":288,"v":60.6},{"b":289,"v":59.9},{"b":290,"v":57.1},{"b":292,"v":68.2},{"b":293,"v":62.6},{"b":294,"v":79},{"b":295,"v":79},{"b":296,"v":74},{"b":297,"v":66.9},{"b":298,"v":67.4},{"b":299,"v":71.2},{"b":300,"v":64.4},{"b":301,"v":66.4},{"b":303,"v":65.9},{"b":304,"v":69.4},{"b":305,"v":69.7},{"b":306,"v":65.7},{"b":307,"v":65.7},{"b":309,"v":61.9},{"b":310,"v":57.6},{"b":311,"v":60.1},{"b":312,"v":56.9},{"b":313,"v":48.8},{"b":315,"v":41.8},{"b":316,"v":41.8}],
"fib":[
{"label":"0.00%(77.127)","v":77.127,"from":257.2,"to":407.2,"end":404,"lead":"dark"},
{"label":"38.20%(75.590)","v":75.59,"from":257.2,"to":407.2,"end":404,"lead":"dark"},
{"label":"50.00%(75.115)","v":75.115,"from":257.2,"to":407.2,"end":404,"lead":"light"},
{"label":"61.80%(74.640)","v":74.64,"from":257.2,"to":407.2,"end":404,"lead":"dark"},
{"label":"100.00%(73.103)","v":73.103,"from":257.2,"to":407.2,"end":404,"lead":"dark"}
],
"trend":[{"b":-5.56,"v":78.46},{"b":341.9,"v":73.77}],
"swing":[{"b":257.2,"v":73.103},{"b":305.1,"v":77.127}],
"stoch_band":[{"lo":20,"hi":80,"from":-5.56,"to":407.2}],
"rsi_band":[{"lo":30,"hi":70,"from":-5.56,"to":407.2}]
},
"vconcat":[
{"width":1762,"height":37,"view":{"stroke":null},"data":{"name":"one"},
"layer":[
{"mark":{"type":"text","align":"left","baseline":"middle","dy":-2,"fontSize":19,"fontWeight":"bold","color":"#131722"},"encoding":{"x":{"datum":-5.56,"type":"quantitative","scale":{"domain":[-5.56,430]},"axis":null},"text":{"value":"FX:AUDJPY, 240"}}},
{"mark":{"type":"text","align":"left","baseline":"middle","dy":-2,"fontSize":18.7,"color":"#131722"},"encoding":{"x":{"datum":31,"type":"quantitative","scale":{"domain":[-5.56,430]},"axis":null},"text":{"value":"75.827"}}},
{"mark":{"type":"text","align":"left","baseline":"middle","dy":-2,"fontSize":18,"font":"DejaVu Sans","color":"#ef5350"},"encoding":{"x":{"datum":46.6,"type":"quantitative","scale":{"domain":[-5.56,430]},"axis":null},"text":{"value":"▼"}}},
{"mark":{"type":"text","align":"left","baseline":"middle","dy":-2,"fontSize":18.7,"color":"#131722"},"encoding":{"x":{"datum":52,"type":"quantitative","scale":{"domain":[-5.56,430]},"axis":null},"text":{"value":"−0.195 (−0.26%)"}}},
{"mark":{"type":"text","align":"left","baseline":"middle","dy":-2,"fontSize":19,"fontWeight":"bold","color":"#131722"},"encoding":{"x":{"datum":87.8,"type":"quantitative","scale":{"domain":[-5.56,430]},"axis":null},"text":{"value":"O:"}}},
{"mark":{"type":"text","align":"left","baseline":"middle","dy":-2,"fontSize":18.7,"color":"#ef5350"},"encoding":{"x":{"datum":93.3,"type":"quantitative","scale":{"domain":[-5.56,430]},"axis":null},"text":{"value":"75.821"}}},
{"mark":{"type":"text","align":"left","baseline":"middle","dy":-2,"fontSize":19,"fontWeight":"bold","color":"#131722"},"encoding":{"x":{"datum":109.6,"type":"quantitative","scale":{"domain":[-5.56,430]},"axis":null},"text":{"value":"H:"}}},
{"mark":{"type":"text","align":"left","baseline":"middle","dy":-2,"fontSize":18.7,"color":"#ef5350"},"encoding":{"x":{"datum":114.9,"type":"quantitative","scale":{"domain":[-5.56,430]},"axis":null},"text":{"value":"75.856"}}},
{"mark":{"type":"text","align":"left","baseline":"middle","dy":-2,"fontSize":19,"fontWeight":"bold","color":"#131722"},"encoding":{"x":{"datum":131.1,"type":"quantitative","scale":{"domain":[-5.56,430]},"axis":null},"text":{"value":"L:"}}},
{"mark":{"type":"text","align":"left","baseline":"middle","dy":-2,"fontSize":18.7,"color":"#ef5350"},"encoding":{"x":{"datum":135.6,"type":"quantitative","scale":{"domain":[-5.56,430]},"axis":null},"text":{"value":"75.758"}}},
{"mark":{"type":"text","align":"left","baseline":"middle","dy":-2,"fontSize":19,"fontWeight":"bold","color":"#131722"},"encoding":{"x":{"datum":151.6,"type":"quantitative","scale":{"domain":[-5.56,430]},"axis":null},"text":{"value":"C:"}}},
{"mark":{"type":"text","align":"left","baseline":"middle","dy":-2,"fontSize":18.7,"color":"#ef5350"},"encoding":{"x":{"datum":156.4,"type":"quantitative","scale":{"domain":[-5.56,430]},"axis":null},"text":{"value":"75.827"}}}
]},
{"width":1762,"height":395.3,"view":{"fill":"#f2f2f2","stroke":"#50535e","strokeWidth":2},
"layer":[
{"data":{"name":"ma_blue"},"mark":{"type":"line","color":"#0d47a1","strokeWidth":3,"interpolate":"monotone"},"encoding":{"x":{"field":"b","type":"quantitative","scale":{"domain":[-5.56,430]},"axis":null},"y":{"field":"v","type":"quantitative","scale":{"domain":[72.584,79.139]},"axis":{"orient":"right","offset":-92.4,"title":null,"values":[73,74,75,76,77,78,79],"format":".3f","domainColor":"#50535e","domainWidth":1.5,"tickColor":"#50535e","tickSize":7,"labelPadding":8,"labelOffset":1.5,"labelFontSize":18,"labelColor":"#4a4a4a"}}}},
{"data":{"name":"ma_red"},"mark":{"type":"line","color":"#d32f2f","strokeWidth":3,"interpolate":"monotone"},"encoding":{"x":{"field":"b","type":"quantitative","scale":{"domain":[-5.56,430]},"axis":null},"y":{"field":"v","type":"quantitative","scale":{"domain":[72.584,79.139]}}}},
{"data":{"name":"candles"},"mark":{"type":"rule","color":"#000","strokeWidth":1},"encoding":{"x":{"field":"b","type":"quantitative","scale":{"domain":[-5.56,430]},"axis":null},"y":{"field":"l","type":"quantitative","scale":{"domain":[72.584,79.139]}},"y2":{"field":"h"}}},
{"data":{"name":"candles"},"mark":{"type":"bar","size":2.4,"stroke":"#000","strokeWidth":1},"encoding":{"x":{"field":"b","type":"quantitative","scale":{"domain":[-5.56,430],"padding":0},"axis":null},"y":{"field":"o","type":"quantitative","scale":{"domain":[72.584,79.139]}},"y2":{"field":"c"},"fill":{"condition":{"test":"datum.c>=datum.o","value":"#3fa81b"},"value":"#e91e63"}}},
{"data":{"name":"trend"},"mark":{"type":"line","color":"#2a2e39","strokeWidth":3},"encoding":{"x":{"field":"b","type":"quantitative","scale":{"domain":[-5.56,430]},"axis":null},"y":{"field":"v","type":"quantitative","scale":{"domain":[72.584,79.139]}}}},
{"data":{"name":"fib"},"mark":{"type":"rule","strokeWidth":3},"encoding":{"x":{"field":"from","type":"quantitative","scale":{"domain":[-5.56,430]},"axis":null},"x2":{"field":"to"},"y":{"field":"v","type":"quantitative","scale":{"domain":[72.584,79.139]}},"color":{"field":"lead","type":"nominal","scale":{"domain":["dark","light"],"range":["#5d606b","#787b86"]},"legend":null}}},
{"data":{"name":"swing"},"mark":{"type":"line","color":"#787b86","strokeWidth":2.6},"encoding":{"x":{"field":"b","type":"quantitative","scale":{"domain":[-5.56,430]},"axis":null},"y":{"field":"v","type":"quantitative","scale":{"domain":[72.584,79.139]}}}},
{"data":{"name":"fib"},"mark":{"type":"text","align":"right","baseline":"middle","dy":-10,"fontSize":17.3,"color":"#787b86"},"encoding":{"x":{"field":"end","type":"quantitative","scale":{"domain":[-5.56,430]},"axis":null},"y":{"field":"v","type":"quantitative","scale":{"domain":[72.584,79.139]}},"text":{"field":"label"}}},
{"data":{"name":"one"},"mark":{"type":"rect","color":"#4fbf1f"},"encoding":{"x":{"datum":383.3,"type":"quantitative","scale":{"domain":[-5.56,430]},"axis":null},"x2":{"datum":406.6},"y":{"datum":76.104,"type":"quantitative","scale":{"domain":[72.584,79.139]}},"y2":{"datum":75.561}}},
{"data":{"name":"one"},"mark":{"type":"text","align":"center","baseline":"middle","fontSize":20,"color":"#000"},"encoding":{"x":{"datum":395.5,"type":"quantitative","scale":{"domain":[-5.56,430]},"axis":null},"y":{"datum":75.855,"type":"quantitative","scale":{"domain":[72.584,79.139]}},"text":{"value":"AUDJPY"}}},
{"data":{"name":"one"},"mark":{"type":"rect","fill":"#f2f2f2","fillOpacity":0.85,"stroke":"#d6d8e0","strokeWidth":1,"cornerRadius":6},"encoding":{"x":{"datum":412.9,"type":"quantitative","scale":{"domain":[-5.56,430]},"axis":null},"x2":{"datum":424.6},"y":{"datum":78.968,"type":"quantitative","scale":{"domain":[72.584,79.139]}},"y2":{"datum":78.387}}},
{"data":{"name":"one"},"mark":{"type":"text","align":"center","baseline":"middle","fontSize":20.5,"color":"#50535e"},"encoding":{"x":{"datum":418.75,"type":"quantitative","scale":{"domain":[-5.56,430]},"axis":null},"y":{"datum":78.67,"type":"quantitative","scale":{"domain":[72.584,79.139]}},"text":{"value":"JPY"}}}
]},
{"width":1762,"height":104,"view":{"fill":"#f2f2f2","stroke":"#50535e","strokeWidth":1.5},
"layer":[
{"data":{"name":"stoch_band"},"mark":{"type":"rect","color":"#e1c5f4"},"encoding":{"x":{"field":"from","type":"quantitative","scale":{"domain":[-5.56,430]},"axis":null},"x2":{"field":"to"},"y":{"field":"lo","type":"quantitative","scale":{"domain":[-6.6,107.7]},"axis":{"orient":"right","offset":-92.4,"title":null,"values":[0,100],"format":".2f","domainColor":"#50535e","domainWidth":1.5,"tickColor":"#50535e","tickSize":7,"labelPadding":8,"labelFontSize":18,"labelColor":"#4a4a4a"}},"y2":{"field":"hi"}}},
{"data":{"name":"stoch_band"},"mark":{"type":"rule","color":"#5d606b","strokeWidth":1,"strokeDash":[4,3]},"encoding":{"x":{"field":"from","type":"quantitative","scale":{"domain":[-5.56,430]},"axis":null},"x2":{"field":"to"},"y":{"field":"lo","type":"quantitative","scale":{"domain":[-6.6,107.7]}}}},
{"data":{"name":"stoch_band"},"mark":{"type":"rule","color":"#5d606b","strokeWidth":1,"strokeDash":[4,3]},"encoding":{"x":{"field":"from","type":"quantitative","scale":{"domain":[-5.56,430]},"axis":null},"x2":{"field":"to"},"y":{"field":"hi","type":"quantitative","scale":{"domain":[-6.6,107.7]}}}},
{"data":{"name":"stoch_k"},"mark":{"type":"line","color":"#2196f3","strokeWidth":1.4},"encoding":{"x":{"field":"b","type":"quantitative","scale":{"domain":[-5.56,430]},"axis":null},"y":{"field":"v","type":"quantitative","scale":{"domain":[-6.6,107.7]}}}},
{"data":{"name":"stoch_d"},"mark":{"type":"line","color":"#ff6d00","strokeWidth":1.4,"interpolate":"monotone"},"encoding":{"x":{"field":"b","type":"quantitative","scale":{"domain":[-5.56,430]},"axis":null},"y":{"field":"v","type":"quantitative","scale":{"domain":[-6.6,107.7]}}}}
]},
{"width":1762,"height":101,"view":{"fill":"#f2f2f2","stroke":"#50535e","strokeWidth":1.5},
"layer":[
{"data":{"name":"rsi_band"},"mark":{"type":"rect","color":"#e8d9f3"},"encoding":{"x":{"field":"from","type":"quantitative","scale":{"domain":[-5.56,430]},"axis":null},"x2":{"field":"to"},"y":{"field":"lo","type":"quantitative","scale":{"domain":[11.3,87.5]},"axis":{"orient":"right","offset":-92.4,"title":null,"values":[40,80],"format":".2f","domainColor":"#50535e","domainWidth":1.5,"tickColor":"#50535e","tickSize":7,"labelPadding":8,"labelOffset":1,"labelFontSize":18,"labelColor":"#4a4a4a"}},"y2":{"field":"hi"}}},
{"data":{"name":"rsi_band"},"mark":{"type":"rule","color":"#b9a9c4","strokeWidth":1,"strokeDash":[4,3]},"encoding":{"x":{"field":"from","type":"quantitative","scale":{"domain":[-5.56,430]},"axis":null},"x2":{"field":"to"},"y":{"field":"lo","type":"quantitative","scale":{"domain":[11.3,87.5]}}}},
{"data":{"name":"rsi_band"},"mark":{"type":"rule","color":"#b9a9c4","strokeWidth":1,"strokeDash":[4,3]},"encoding":{"x":{"field":"from","type":"quantitative","scale":{"domain":[-5.56,430]},"axis":null},"x2":{"field":"to"},"y":{"field":"hi","type":"quantitative","scale":{"domain":[11.3,87.5]}}}},
{"data":{"name":"rsi"},"mark":{"type":"line","color":"#8e1599","strokeWidth":1.5},"encoding":{"x":{"field":"b","type":"quantitative","scale":{"domain":[-5.56,430]},"axis":null},"y":{"field":"v","type":"quantitative","scale":{"domain":[11.3,87.5]}}}}
]},
{"width":1762,"height":49.4,"view":{"fill":"#f2f2f2","stroke":"#50535e","strokeWidth":2},"data":{"name":"one"},
"mark":{"type":"rule","color":"#50535e","strokeWidth":1.5},
"encoding":{"x":{"datum":407.2,"type":"quantitative","scale":{"domain":[-5.56,430]},"axis":{"orient":"bottom","offset":-49.4,"title":null,"domain":false,"values":[0,53.8,89.6,131.8,173.6,209.3,259.9,323.1,388.8],"labelExpr":"datum.value==0?'Sep':datum.value==53.8?'14':datum.value==89.6?'22':datum.value==131.8?'Oct':datum.value==173.6?'12':datum.value==209.3?'20':datum.value==259.9?'Nov':datum.value==323.1?'16':'Dec'","labelOverlap":false,"labelFlush":false,"tickColor":"#50535e","tickSize":5,"labelPadding":10,"labelFontSize":19,"labelColor":"#4a4a4a"}}}},
{"width":1762,"height":55.3,"view":{"stroke":null},"data":{"name":"one"},
"layer":[
{"mark":{"type":"point","filled":true,"size":1521,"color":"#2196f3","opacity":1,"yOffset":-1,"shape":"M-0.75,0.56 C-1.05,0.56 -1.1,0.1 -0.8,-0.02 C-0.7,-0.1 -0.55,-0.1 -0.42,-0.08 C-0.35,-0.4 -0.1,-0.56 0.1,-0.56 C0.35,-0.56 0.5,-0.4 0.55,-0.2 C0.85,-0.25 1.05,0 1,0.3 C0.98,0.48 0.85,0.56 0.7,0.56 Z"},"encoding":{"x":{"datum":-0.96,"type":"quantitative","scale":{"domain":[-5.56,430]},"axis":null}}},
{"mark":{"type":"point","filled":false,"size":1521,"stroke":"#fff","strokeWidth":2,"opacity":1,"yOffset":-1,"shape":"M-0.85,0.3 L-0.2,-0.2 L0.25,0.3 L0.9,-0.25"},"encoding":{"x":{"datum":-0.96,"type":"quantitative","scale":{"domain":[-5.56,430]},"axis":null}}},
{"mark":{"type":"text","align":"left","baseline":"middle","dy":-1,"fontSize":18.3,"color":"#131722"},"encoding":{"x":{"datum":4.6,"type":"quantitative","scale":{"domain":[-5.56,430]},"axis":null},"text":{"value":"TradingView"}}}
]}
]
}
